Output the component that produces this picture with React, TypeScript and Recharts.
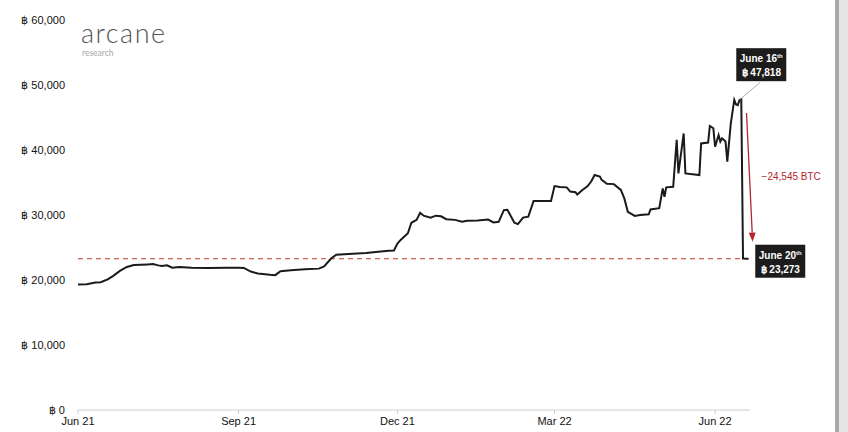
import { LineChart, Line, XAxis, YAxis, ReferenceLine, ReferenceDot } from "recharts";

const startDate = "2021-06-01";
const endDate = "2022-06-21";

const dates = [
  "2021-06-01", "2021-06-06", "2021-06-11", "2021-06-14", "2021-06-18", "2021-06-21", "2021-06-25", "2021-06-29",
  "2021-07-03", "2021-07-11", "2021-07-14", "2021-07-17", "2021-07-19", "2021-07-22", "2021-07-25", "2021-07-29",
  "2021-08-05", "2021-08-15", "2021-08-25", "2021-09-01", "2021-09-04", "2021-09-08", "2021-09-12", "2021-09-19",
  "2021-09-22", "2021-09-25", "2021-10-01", "2021-10-09", "2021-10-17", "2021-10-20", "2021-10-24", "2021-10-27",
  "2021-11-03", "2021-11-13", "2021-11-20", "2021-11-26", "2021-11-29", "2021-12-01", "2021-12-03", "2021-12-07",
  "2021-12-09", "2021-12-12", "2021-12-14", "2021-12-16", "2021-12-20", "2021-12-23", "2021-12-26", "2021-12-29",
  "2022-01-03", "2022-01-07", "2022-01-10", "2022-01-16", "2022-01-22", "2022-01-25", "2022-01-28", "2022-01-31",
  "2022-02-02", "2022-02-06", "2022-02-08", "2022-02-11", "2022-02-14", "2022-02-17", "2022-02-23", "2022-02-27",
  "2022-03-01", "2022-03-04", "2022-03-08", "2022-03-10", "2022-03-13", "2022-03-14", "2022-03-17", "2022-03-20",
  "2022-03-22", "2022-03-24", "2022-03-27", "2022-03-28", "2022-03-31", "2022-04-04", "2022-04-08", "2022-04-10",
  "2022-04-12", "2022-04-16", "2022-04-19", "2022-04-24", "2022-04-25", "2022-04-30", "2022-05-02", "2022-05-03",
  "2022-05-04", "2022-05-08", "2022-05-10", "2022-05-11", "2022-05-14", "2022-05-15", "2022-05-23", "2022-05-24",
  "2022-05-28", "2022-05-29", "2022-05-31", "2022-06-01", "2022-06-03", "2022-06-04", "2022-06-05", "2022-06-07",
  "2022-06-08", "2022-06-10", "2022-06-12", "2022-06-13", "2022-06-14", "2022-06-15", "2022-06-16", "2022-06-17",
  "2022-06-20",
];

const btcHeld = [
  19300, 19350, 19600, 19650, 20100, 20600, 21400, 22000,
  22300, 22400, 22450, 22250, 22150, 22250, 21900, 22000,
  21900, 21850, 21900, 21900, 21850, 21300, 21000, 20800,
  20750, 21350, 21500, 21650, 21750, 22100, 23300, 23900,
  24000, 24150, 24350, 24500, 24550, 25600, 26200, 27200,
  28800, 29250, 30350, 29900, 29600, 29900, 29800, 29350,
  29250, 28950, 29100, 29150, 29300, 28850, 28950, 30750,
  30800, 28800, 28600, 29600, 29750, 32150, 32150, 32150,
  34450, 34300, 34250, 33600, 33500, 33150, 33850, 34450,
  35150, 36150, 35900, 35400, 34800, 34750, 33850, 32550,
  30500, 29850, 30000, 30100, 30850, 31050, 34100, 32800,
  34250, 34350, 41550, 36400, 42550, 36400, 36150, 41000,
  41150, 43700, 43350, 40500, 42300, 41300, 41800, 41300,
  38200, 44100, 47700, 47000, 46900, 47700, 47818, 23300,
  23273,
];

const tickDates = ["2021-06-01", "2021-09-01", "2021-12-01", "2022-03-01", "2022-06-01"];
const tickLabels = ["Jun 21", "Sep 21", "Dec 21", "Mar 22", "Jun 22"];
const yTicks = [0, 10000, 20000, 30000, 40000, 50000, 60000];

const peakDate = "2022-06-16";
const peakValue = 47818;
const lowDate = "2022-06-20";
const lowValue = 23273;
const dropLabel = "−24,545 BTC";

const toDay = (d: string) => (Date.parse(d) - Date.parse(startDate)) / 86400000;

const data = dates.map((d, i) => ({ day: toDay(d), btc: btcHeld[i] }));
const tickDays = tickDates.map(toDay);

const fmtBtc = (v: number) => `฿ ${v.toLocaleString("en-US")}`;
const font = "'Liberation Sans', Arial, sans-serif";
const red = "#b3262e";

function InfoBox({ x, y, title, value }: { x: number; y: number; title: string; value: number }) {
  return (
    <g>
      <rect x={x} y={y} width={50} height={33} fill="#1c1c1c" />
      <text x={x + 25} y={y + 14} textAnchor="middle" fill="#fff" fontSize={10} fontWeight="bold" fontFamily={font}>
        {title}
        <tspan fontSize={6} dy={-4}>th</tspan>
      </text>
      <text x={x + 25} y={y + 28} textAnchor="middle" fill="#fff" fontSize={10} fontWeight="bold" fontFamily={font}>
        {fmtBtc(value)}
      </text>
    </g>
  );
}

export default function App() {
  return (
    <div style={{ position: "absolute", left: 0, top: 0, width: 848, height: 432, background: "#fff" }}>
      <LineChart width={848} height={432} data={data} margin={{ top: 20, right: 98, bottom: 0, left: 0 }}>
        <XAxis
          dataKey="day"
          type="number"
          domain={[0, toDay(endDate)]}
          ticks={tickDays}
          tickFormatter={(v: number) => tickLabels[tickDays.indexOf(v)]}
          stroke="#cfcfcf"
          height={22}
          tickSize={4}
          tickMargin={3}
          tick={{ fill: "#111", fontSize: 11, fontFamily: font }}
        />
        <YAxis
          type="number"
          domain={[0, 60000]}
          ticks={yTicks}
          width={78}
          axisLine={false}
          tickLine={false}
          tickMargin={7}
          tickFormatter={fmtBtc}
          tick={{ fill: "#111", fontSize: 11, fontFamily: font }}
        />
        <ReferenceLine y={lowValue} stroke="#c0392b" strokeDasharray="5 4" strokeWidth={1.2} />
        <Line
          type="linear"
          dataKey="btc"
          stroke="#1a1a1a"
          strokeWidth={2}
          dot={false}
          isAnimationActive={false}
        />
        <ReferenceLine
          ifOverflow="visible"
          segment={[
            { x: toDay(lowDate) - 1, y: 45700 },
            { x: toDay(lowDate) + 2.5, y: 25900 },
          ]}
          shape={(p: any) => {
            const { x1, y1, x2, y2 } = p;
            const ang = Math.atan2(y2 - y1, x2 - x1);
            const len = 9;
            const w = 3.5;
            const bx = x2 - len * Math.cos(ang);
            const by = y2 - len * Math.sin(ang);
            const nx = -Math.sin(ang) * w;
            const ny = Math.cos(ang) * w;
            return (
              <g>
                <line x1={x1} y1={y1} x2={bx} y2={by} stroke={red} strokeWidth={1.3} />
                <polygon points={`${x2},${y2} ${bx + nx},${by + ny} ${bx - nx},${by - ny}`} fill={red} />
                <text x={x2 + 9} y={(y1 + y2) / 2 + 3} fill={red} fontSize={10} fontFamily={font}>
                  {dropLabel}
                </text>
              </g>
            );
          }}
        />
        <ReferenceDot
          x={toDay(peakDate)}
          y={peakValue}
          shape={(p: any) => (
            <g>
              <line x1={p.cx - 2} y1={p.cy + 1} x2={p.cx + 19} y2={p.cy - 17} stroke="#9a9a9a" strokeWidth={0.8} />
              <InfoBox x={p.cx - 5} y={p.cy - 51} title="June 16" value={peakValue} />
            </g>
          )}
        />
        <ReferenceDot
          x={toDay(lowDate)}
          y={lowValue}
          shape={(p: any) => <InfoBox x={p.cx + 7} y={p.cy - 14} title="June 20" value={lowValue} />}
        />
      </LineChart>
      <svg width={848} height={432} style={{ position: "absolute", left: 0, top: 0, pointerEvents: "none" }}>
        <text x={81} y={43} fill="#555" fontSize={27} fontWeight={300} fontFamily="Lato, 'Open Sans', sans-serif" letterSpacing={1.5}>
          arcane
        </text>
        <text x={82} y={56} fill="#a8a8a8" fontSize={8.5} fontFamily="Lato, 'Open Sans', sans-serif">
          research
        </text>
        <rect x={835} y={0} width={4} height={432} fill="#a9a9a9" />
        <rect x={839} y={0} width={9} height={432} fill="#e4e4e4" />
      </svg>
    </div>
  );
}
